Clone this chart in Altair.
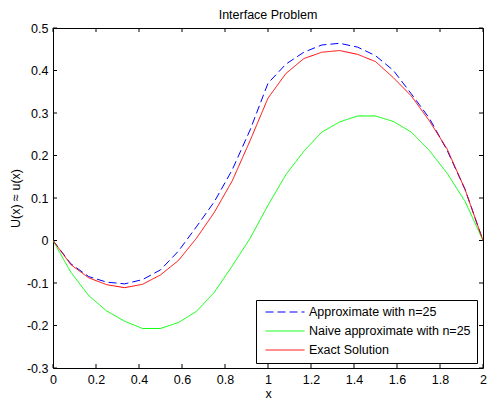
import altair as alt
import pandas as pd

x_vals = [0, 1/12, 2/12, 3/12, 4/12, 5/12, 6/12, 7/12, 8/12, 9/12, 10/12, 11/12, 1.0,
          13/12, 14/12, 15/12, 16/12, 17/12, 18/12, 19/12, 20/12, 21/12, 22/12, 23/12, 2.0]

approx = [0, -0.055, -0.085, -0.098, -0.102, -0.092, -0.069, -0.025, 0.032, 0.091, 0.166, 0.26, 0.37,
          0.415, 0.443, 0.46, 0.464, 0.455, 0.435, 0.40, 0.345, 0.288, 0.212, 0.12, 0]
naive = [0, -0.075, -0.13, -0.166, -0.19, -0.207, -0.207, -0.193, -0.167, -0.122, -0.06, 0.005, 0.083,
         0.155, 0.21, 0.255, 0.279, 0.293, 0.293, 0.28, 0.255, 0.212, 0.158, 0.092, 0]
exact = [0, -0.057, -0.088, -0.104, -0.111, -0.103, -0.081, -0.047, 0.005, 0.066, 0.14, 0.235, 0.335,
         0.393, 0.428, 0.443, 0.447, 0.438, 0.421, 0.383, 0.34, 0.282, 0.215, 0.12, 0]

names = ["Approximate with n=25", "Naive approximate with n=25", "Exact Solution"]
colors = ["#0000FF", "#00FF00", "#FF0000"]
dashes = [[8, 4], [1, 0], [1, 0]]

x_ticks = [0, 0.2, 0.4, 0.6, 0.8, 1.0, 1.2, 1.4, 1.6, 1.8, 2.0]
y_ticks = [-0.3, -0.2, -0.1, 0, 0.1, 0.2, 0.3, 0.4, 0.5]

rows = []
for name, series in zip(names, [approx, naive, exact]):
    for i, (xv, yv) in enumerate(zip(x_vals, series)):
        rows.append({"x": xv, "y": yv, "series": name, "i": i})
df = pd.DataFrame(rows)
xt = pd.DataFrame({"x": x_ticks})
yt = pd.DataFrame({"y": y_ticks})

W, H = 430, 340
FONT = "Liberation Sans"
FS = 12.5
lab = "datum.value == 0 ? '0' : toString(round(datum.value*10)/10)"

xscale = alt.Scale(domain=[0, 2], nice=False, zero=False)
yscale = alt.Scale(domain=[-0.3, 0.5], nice=False, zero=False)

axis_font = dict(labelFont=FONT, labelFontSize=FS, labelColor="black",
                 titleFont=FONT, titleFontSize=FS, titleFontWeight="normal", titleColor="black")

lines = alt.Chart(df).mark_line(strokeWidth=1, clip=True).encode(
    x=alt.X("x:Q", scale=xscale,
            axis=alt.Axis(values=x_ticks, labelExpr=lab, title="x", ticks=False, domain=False,
                          grid=False, labelPadding=5, titlePadding=2, labelFlush=False, **axis_font)),
    y=alt.Y("y:Q", scale=yscale,
            axis=alt.Axis(values=y_ticks, labelExpr=lab, title="U(x) ≈ u(x)", ticks=False,
                          domain=False, grid=False, labelPadding=5, titlePadding=4, labelFlush=False,
                          **axis_font)),
    color=alt.Color("series:N", scale=alt.Scale(domain=names, range=colors),
                    legend=alt.Legend(title=None, orient="none", legendX=203, legendY=272,
                                      symbolType="stroke", symbolSize=1521, symbolStrokeWidth=1,
                                      fillColor="white", strokeColor="black", padding=6,
                                      symbolOffset=3, labelOffset=4, clipHeight=12,
                                      rowPadding=6, labelFontSize=FS, labelFont=FONT,
                                      labelColor="black", labelLimit=400, cornerRadius=0)),
    strokeDash=alt.StrokeDash("series:N", scale=alt.Scale(domain=names, range=dashes)),
    order="i:Q",
)

tick_style = dict(color="black", strokeWidth=1)
xt_bottom = alt.Chart(xt).mark_rule(**tick_style).encode(x="x:Q", y=alt.value(H), y2=alt.value(H - 4))
xt_top = alt.Chart(xt).mark_rule(**tick_style).encode(x="x:Q", y=alt.value(0), y2=alt.value(4))
yt_left = alt.Chart(yt).mark_rule(**tick_style).encode(y="y:Q", x=alt.value(0), x2=alt.value(4))
yt_right = alt.Chart(yt).mark_rule(**tick_style).encode(y="y:Q", x=alt.value(W), x2=alt.value(W - 4))

chart = alt.layer(xt_bottom, xt_top, yt_left, yt_right, lines).properties(
    width=W, height=H,
    background="white",
    title=alt.TitleParams("Interface Problem", font=FONT, fontSize=FS, fontWeight="normal",
                          color="black", offset=1, frame="group"),
    autosize=alt.AutoSizeParams(type="none"),
    padding={"left": 45, "top": 20, "right": 4, "bottom": 32},
).configure_view(
    stroke="black", strokeWidth=1
)

chart.save("out.html", embed_options={"renderer": "svg", "actions": False})
